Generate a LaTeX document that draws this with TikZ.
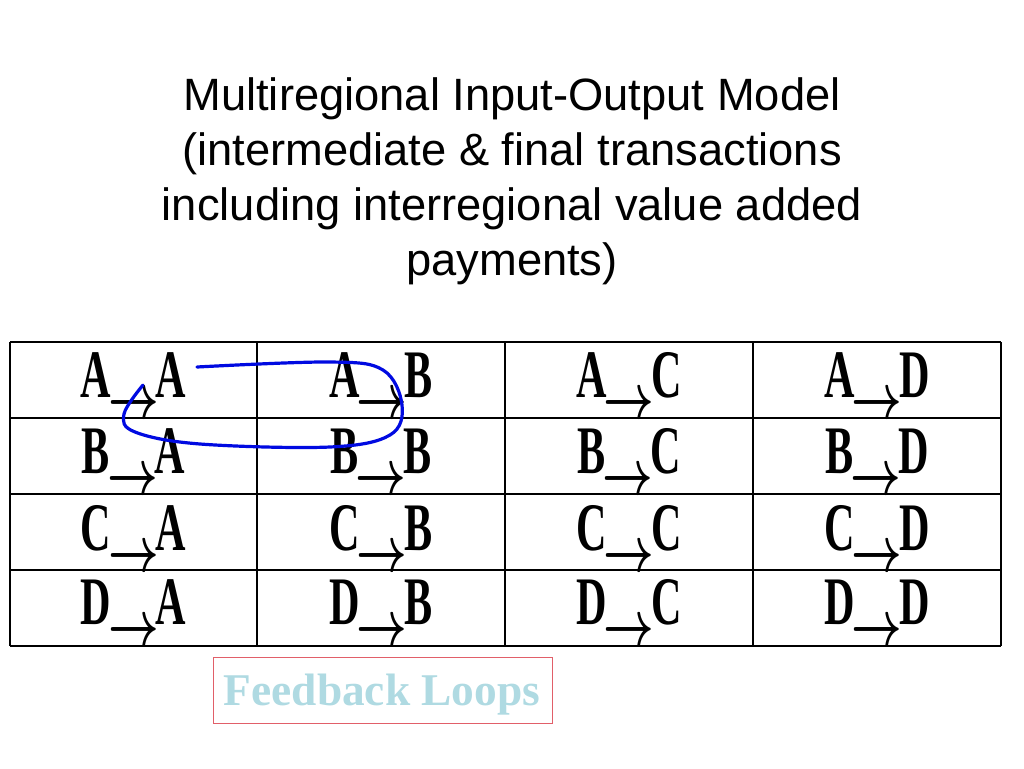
\documentclass[tikz,border=0pt]{standalone}
\usepackage{fontspec}
\usepackage{graphicx}
\setmainfont{Liberation Sans}
\newfontfamily\cellfont{Liberation Serif}
\definecolor{loopblue}{RGB}{0,10,225}
\definecolor{fbred}{RGB}{225,95,105}
\definecolor{fbtext}{RGB}{175,218,226}
\newcommand{\flowcell}[2]{\scalebox{0.62}[1]{#1}\hspace{-3pt}\raisebox{-21pt}{\scalebox{4.4}[6.4]{\normalsize\boldmath$\rightarrow$}}\hspace{-3pt}\scalebox{0.62}[1]{#2}}
\tikzset{
  titleline/.style={anchor=base,inner sep=0pt,font=\fontsize{45.3}{45}\selectfont},
  cell/.style={anchor=base,inner sep=0pt,font=\cellfont\bfseries\fontsize{68}{68}\selectfont},
  gridline/.style={line width=2pt,black},
  vline/.style={line width=1.4pt,black},
  fbbox/.style={draw=fbred,line width=1pt,minimum width=339pt,minimum height=66pt,inner sep=0pt},
}
\begin{document}
\begin{tikzpicture}[x=1pt,y=-1pt]
\useasboundingbox[fill=white] (0,0) rectangle (1024,768);
% title
\node[titleline] (t1) at (512,110) {Multiregional Input-Output Model};
\node[titleline] (t2) at (512,165) {(intermediate \& final transactions};
\node[titleline] (t3) at (512,220) {including interregional value added};
\node[titleline] (t4) at (512,275) {payments)};
% grid
\foreach \y in {342,418,494,570,646} \draw[gridline] (10,\y) -- (1001,\y);
\foreach \x in {10,257,505,753,1001} \draw[vline] (\x,342) -- (\x,646);
% cells
\foreach \r/\ry/\by in {A/1/397,B/2/473,C/3/550,D/4/624}{
  \foreach \c/\cx in {A/133.5,B/381,C/629,D/877}{
    \node[cell] (c\r\c) at (\cx,\by) {\flowcell{\r}{\c}};
  }
}
% feedback loop
\draw[loopblue,line width=3.2pt,line cap=round] plot[smooth,tension=0.6] coordinates
 {(197,367) (330,362) (383,370) (402,405) (390,435) (330,447) (200,444) (135,432) (124,414) (143,385)};
% feedback box
\node[fbbox] (fb) at (382.5,690) {};
\node[anchor=base,inner sep=0pt,text=fbtext,font=\cellfont\bfseries\fontsize{45.4}{45}\selectfont] (fbt) at (382,705) {Feedback Loops};
\end{tikzpicture}
\end{document}
